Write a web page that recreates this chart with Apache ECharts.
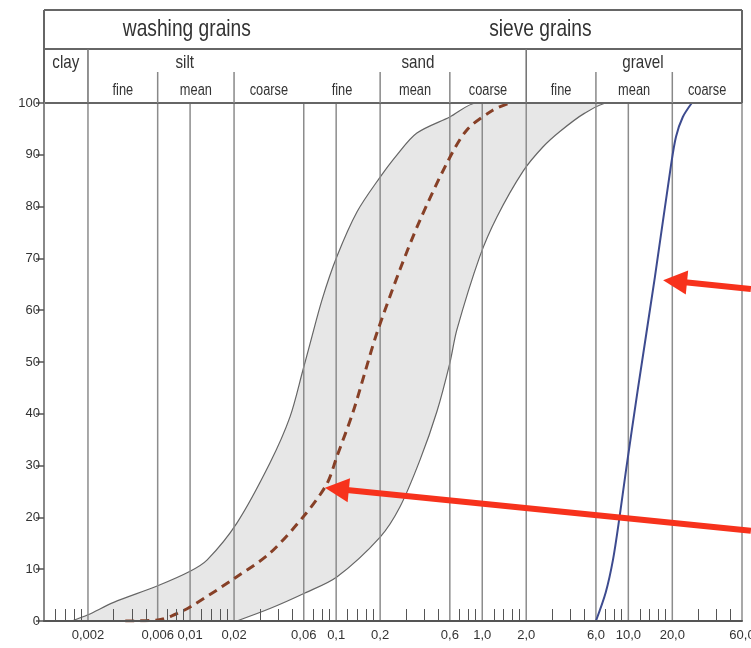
<!DOCTYPE html>
<html><head><meta charset="utf-8">
<script src="https://cdn.jsdelivr.net/npm/echarts@6/dist/echarts.min.js"></script>
<style>html,body{margin:0;padding:0;background:#fff}#c{width:751px;height:648px}</style>
</head><body><div id="c"></div>
<script>
const FONT = '"Liberation Sans",Arial,sans-serif';

// ---- axis data ----
const X_MIN = 0.001, X_MAX = 60;
const xLabelValues = [0.002, 0.006, 0.01, 0.02, 0.06, 0.1, 0.2, 0.6, 1.0, 2.0, 6.0, 10.0, 20.0, 60.0];
const xTickLabels  = ['0,002', '0,006', '0,01', '0,02', '0,06', '0,1', '0,2', '0,6', '1,0', '2,0', '6,0', '10,0', '20,0', '60,0'];
const minorTicks = [0.0012, 0.0014, 0.0016, 0.0018, 0.003, 0.004, 0.005, 0.007, 0.008, 0.009,
  0.012, 0.014, 0.016, 0.018, 0.03, 0.04, 0.05, 0.07, 0.08, 0.09,
  0.12, 0.14, 0.16, 0.18, 0.3, 0.4, 0.5, 0.7, 0.8, 0.9,
  1.2, 1.4, 1.6, 1.8, 3, 4, 5, 7, 8, 9, 12, 14, 16, 18, 30, 40, 50];
const gridValues = xLabelValues;

// ---- header (classification table) ----
const headerTitles = [['washing grains', 0.0095], ['sieve grains', 2.5]];
const soilClasses = [['clay', 0.00141], ['silt', 0.0092], ['sand', 0.363], ['gravel', 12.6]];
const classBounds = [0.002, 2.0];
const subBounds = [0.006, 0.02, 0.2, 0.6, 6.0, 20.0];
const subClasses = [['fine', 0.002, 0.006], ['mean', 0.006, 0.02], ['coarse', 0.02, 0.06],
  ['fine', 0.06, 0.2], ['mean', 0.2, 0.6], ['coarse', 0.6, 2.0],
  ['fine', 2.0, 6.0], ['mean', 6.0, 20.0], ['coarse', 20.0, 60.0]];

// ---- curves (grain size mm, % passing) ----
const upperEnvelope = [[0.00155, 0], [0.002, 1.2], [0.003, 3.6], [0.006, 6.8], [0.01, 9.6], [0.0131, 11.8],
  [0.0209, 18.9], [0.0352, 30.5], [0.0483, 39.4], [0.0593, 48.5], [0.0662, 53.5], [0.08, 62.0], [0.101, 70.3],
  [0.139, 79.0], [0.2, 85.7], [0.261, 90.0], [0.357, 94.2], [0.6, 97.3], [0.92, 100]];
const lowerEnvelope = [[0.0209, 0], [0.0352, 2.4], [0.0611, 5.4], [0.101, 8.5], [0.2, 16.2], [0.273, 22.0],
  [0.375, 31.1], [0.49, 40.5], [0.6, 49.8], [0.67, 56.2], [0.96, 70.3], [1.26, 78.0], [1.9, 86.8],
  [2.6, 91.5], [3.4, 94.5], [5.0, 98.0], [7.25, 100]];
const medianCurve = [[0.0036, 0], [0.006, 0.2], [0.0075, 1.0], [0.01, 2.7], [0.0203, 8.3], [0.0352, 13.1],
  [0.0611, 20.5], [0.0865, 26.5], [0.101, 31.7], [0.13, 40.2], [0.157, 47.9], [0.19, 55.6],
  [0.273, 67.8], [0.375, 77.4], [0.573, 88.4], [0.785, 94.8], [1.18, 98.6], [1.55, 100]];
const gravelCurve = [[6.0, 0], [7.0, 5.5], [7.85, 11.8], [8.7, 20], [9.63, 29], [11.6, 44.6], [15.2, 66.4],
  [19.6, 88], [21.2, 93.5], [23.6, 97.3], [27.2, 100]];

// ---- annotation arrows (from -> to, data coords) ----
const arrows = [{from: [69, 64.1], to: [17.3, 65.8]}, {from: [69, 17.4], to: [0.0838, 25.7]}];

function labelFor(v) {
  for (let i = 0; i < xLabelValues.length; i++) {
    if (Math.abs(Math.log10(v) - Math.log10(xLabelValues[i])) < 1e-6) return xTickLabels[i];
  }
  return '';
}

const chart = echarts.init(document.getElementById('c'), null, {renderer: 'canvas'});

function renderGrid(params, api) {
  const v = api.value(0);
  const p0 = api.coord([v, 0]);
  const p1 = api.coord([v, 100]);
  return {type: 'line', shape: {x1: p0[0], y1: p0[1], x2: p1[0], y2: p1[1]},
    style: {stroke: '#8c8c8c', lineWidth: 1.5}};
}

function renderHeader(params, api) {
  const X = v => api.coord([v, 100])[0];
  const top = api.coord([X_MIN, 100])[1];
  const left = X(X_MIN), right = X(X_MAX);
  const yTop = top - 93, yRow = top - 54, ySub = top - 31;
  const ch = [];
  const ln = (x1, y1, x2, y2, w, c) => ch.push({type: 'line', shape: {x1, y1, x2, y2}, style: {stroke: c || '#666', lineWidth: w || 2}});
  ln(left, yTop, right, yTop);
  ln(left, yRow, right, yRow);
  ln(left, top, right, top);
  ln(left, yTop, left, top);
  ln(right, yTop, right, top);
  classBounds.forEach(b => ln(X(b), yRow, X(b), top, 1.6, '#777'));
  subBounds.forEach(b => ln(X(b), ySub, X(b), top, 1.5, '#888'));
  const txt = (s, x, y, size) => ch.push({type: 'text', x, y, scaleX: 0.8,
    style: {text: s, fill: '#333', font: size + 'px ' + FONT, align: 'center', verticalAlign: 'middle'}});
  headerTitles.forEach(t => txt(t[0], X(t[1]), yTop + 19, 24));
  soilClasses.forEach(t => txt(t[0], X(t[1]), yRow + 14, 19));
  subClasses.forEach(t => txt(t[0], X(Math.sqrt(t[1] * t[2])), top - 12, 16));
  return {type: 'group', children: ch};
}

const option = {
  animation: false,
  backgroundColor: '#fff',
  grid: {left: 44, right: 9, top: 103, bottom: 27, containLabel: false, outerBoundsMode: 'none'},
  xAxis: {
    type: 'log', logBase: 10, min: X_MIN, max: X_MAX, z: 5,
    axisLine: {show: true, onZero: false, lineStyle: {color: '#555', width: 2}},
    axisTick: {show: true, inside: true, length: 12, customValues: minorTicks, lineStyle: {color: '#555', width: 1}},
    axisLabel: {show: true, customValues: xLabelValues, formatter: v => labelFor(v), fontFamily: FONT,
      fontSize: 13, color: '#333', margin: 8, hideOverlap: false},
    splitLine: {show: false}, minorTick: {show: false}, minorSplitLine: {show: false}
  },
  yAxis: {
    type: 'value', min: 0, max: 100, interval: 10, z: 5,
    axisLine: {show: true, lineStyle: {color: '#888', width: 2}},
    axisTick: {show: true, inside: false, length: 8, lineStyle: {color: '#555', width: 1.5}},
    axisLabel: {fontFamily: FONT, fontSize: 13, color: '#333', margin: 4},
    splitLine: {show: false}
  },
  series: [
    {type: 'line', z: 1, data: upperEnvelope.concat([[X_MAX, 100]]), smooth: 0.3, showSymbol: false,
      lineStyle: {color: '#666', width: 1.2}, areaStyle: {color: '#e7e7e7', opacity: 1}},
    {type: 'line', z: 1, data: lowerEnvelope.concat([[X_MAX, 100]]), smooth: 0.3, showSymbol: false,
      lineStyle: {color: '#666', width: 1.2}, areaStyle: {color: '#ffffff', opacity: 1}},
    {type: 'custom', z: 2, data: gridValues.map(v => [v, 0]), renderItem: renderGrid, silent: true},
    {type: 'line', z: 3, data: medianCurve, smooth: 0.3, showSymbol: false,
      lineStyle: {color: '#874027', width: 3, type: [9, 6]}},
    {type: 'line', z: 3, data: gravelCurve, smooth: 0.3, showSymbol: false,
      lineStyle: {color: '#3d4b8f', width: 2}},
    {type: 'custom', z: 4, data: [[1, 50]], renderItem: renderHeader, silent: true}
  ]
};
chart.setOption(option);

const arrowEls = [];
arrows.forEach(a => {
  const p0 = chart.convertToPixel({gridIndex: 0}, a.from);
  const p1 = chart.convertToPixel({gridIndex: 0}, a.to);
  const dx = p1[0] - p0[0], dy = p1[1] - p0[1];
  const L = Math.hypot(dx, dy), ux = dx / L, uy = dy / L;
  const headLen = 24, headHalf = 12;
  const bx = p1[0] - ux * headLen, by = p1[1] - uy * headLen;
  const nx = -uy, ny = ux;
  arrowEls.push({type: 'line', z: 100, shape: {x1: p0[0], y1: p0[1], x2: bx + ux * 2, y2: by + uy * 2},
    style: {stroke: '#f7321c', lineWidth: 6}});
  arrowEls.push({type: 'polygon', z: 100, shape: {points: [[p1[0], p1[1]], [bx + nx * headHalf, by + ny * headHalf], [bx - nx * headHalf, by - ny * headHalf]]},
    style: {fill: '#f7321c'}});
});
chart.setOption({graphic: arrowEls});
</script></body></html>
